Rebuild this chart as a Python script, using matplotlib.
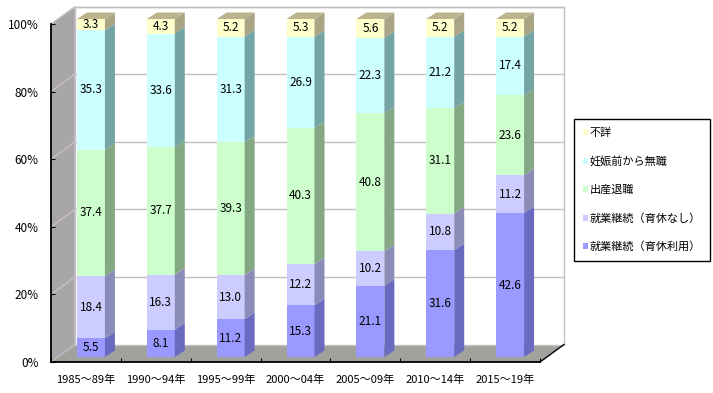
import numpy as np
import matplotlib
matplotlib.use("Agg")
import matplotlib.pyplot as plt
from matplotlib.patches import Polygon, Rectangle, Patch

plt.rcParams['font.family'] = ['Noto Sans CJK JP', 'DejaVu Sans']

# ---- data ----
categories = ['1985～89年', '1990～94年', '1995～99年', '2000～04年',
              '2005～09年', '2010～14年', '2015～19年']
series_names = ['就業継続（育休利用）', '就業継続（育休なし）', '出産退職',
                '妊娠前から無職', '不詳']
ikukyu_riyou = [5.5, 8.1, 11.2, 15.3, 21.1, 31.6, 42.6]
ikukyu_nashi = [18.4, 16.3, 13.0, 12.2, 10.2, 10.8, 11.2]
shussan_taishoku = [37.4, 37.7, 39.3, 40.3, 40.8, 31.1, 23.6]
ninshin_mae_mushoku = [35.3, 33.6, 31.3, 26.9, 22.3, 21.2, 17.4]
fusho = [3.3, 4.3, 5.2, 5.3, 5.6, 5.2, 5.2]
y_ticks = [0, 20, 40, 60, 80, 100]

values = np.array([ikukyu_riyou, ikukyu_nashi, shussan_taishoku,
                   ninshin_mae_mushoku, fusho])
shares = values / values.sum(axis=0) * 100  # 100% stacked

front_colors = ['#9999FF', '#CCCCFF', '#CCFFCC', '#CCFFFF', '#FFFFCC']
side_colors = ['#6A6AC0', '#8C8CB8', '#84A884', '#74A4A4', '#A8A484']
top_color = '#BCB48C'

# ---- figure / axes ----
W, H = 713, 393
fig = plt.figure(figsize=(W / 100, H / 100), dpi=100)
ax = fig.add_axes([51 / W, (H - 362) / H, (540 - 51) / W, (362 - 24) / H])
n = len(categories)
ax.set_xlim(-0.5, n - 0.5)
ax.set_ylim(0, 100)

px_x = (540 - 51) / n          # pixels per category
px_y = (362 - 24) / 100        # pixels per percent
# wall depth
dxw, dyw = 24 / px_x, 17.5 / px_y
# bar front offset and bar depth
fx, fy = 5 / px_x, 5 / px_y
bdx, bdy = 10 / px_x, 6.5 / px_y
bw = 28 / px_x

# floor, walls
x0, x1 = -0.5, n - 0.5
ax.add_patch(Polygon([(x0, 0), (x0 + dxw, dyw), (x1 + dxw, dyw), (x1, 0)],
                     closed=True, fc='#A2A29C', ec='none', clip_on=False, zorder=0))
ax.add_patch(Polygon([(x0, 0), (x0, 100), (x0 + dxw, 100 + dyw), (x0 + dxw, dyw)],
                     closed=True, fc='#A8A6A8', ec='#C8C0C8', lw=0.8, clip_on=False, zorder=0))
ax.add_patch(Rectangle((x0 + dxw, dyw), x1 - x0, 100, fc='white', ec='#C4C0C4',
                       lw=1, clip_on=False, zorder=0))
for v in y_ticks[1:]:
    ax.plot([x0 + dxw, x1 + dxw], [v + dyw, v + dyw], color='#C0C0C0', lw=1,
            clip_on=False, zorder=1)
    ax.plot([x0, x0 + dxw], [v, v + dyw], color='#CEC6CE', lw=0.8,
            clip_on=False, zorder=1)
ax.plot([x1, x1 + dxw], [0, dyw], color='black', lw=1, clip_on=False, zorder=1)

# bars
for i in range(n):
    cx = i + fx
    left, right = cx - bw / 2, cx + bw / 2
    bottom = 0
    for k in range(len(series_names)):
        h = shares[k, i]
        y0, y1 = bottom + fy, bottom + h + fy
        ax.add_patch(Rectangle((left, y0), bw, h, fc=front_colors[k], ec='none',
                               clip_on=False, zorder=3))
        ax.add_patch(Polygon([(right, y0), (right + bdx, y0 + bdy),
                              (right + bdx, y1 + bdy), (right, y1)],
                             closed=True, fc=side_colors[k], ec='none',
                             clip_on=False, zorder=3))
        ax.text(cx, (y0 + y1) / 2, f'{values[k, i]:.1f}', ha='center', va='center',
                fontsize=8.5, zorder=5)
        bottom += h
    ytop = bottom + fy
    ax.add_patch(Polygon([(left, ytop), (left + bdx, ytop + bdy),
                          (right + bdx, ytop + bdy), (right, ytop)],
                         closed=True, fc=top_color, ec='none', clip_on=False, zorder=3))

# axes styling
for s in ['top', 'right']:
    ax.spines[s].set_visible(False)
for s in ['left', 'bottom']:
    ax.spines[s].set_color('black')
    ax.spines[s].set_linewidth(1.3)
    ax.spines[s].set_zorder(4)
ax.set_yticks(y_ticks)
ax.set_yticklabels([f'{v}%' for v in y_ticks])
ax.tick_params(axis='y', direction='in', length=3, pad=9, labelsize=8.5)
ax.set_xticks(np.arange(n + 1) - 0.5)
ax.set_xticklabels([])
ax.set_xticks(np.arange(n), minor=True)
ax.set_xticklabels(categories, minor=True)
ax.tick_params(axis='x', which='major', direction='in', length=3)
ax.tick_params(axis='x', which='minor', length=0, pad=9, labelsize=8)
ax.patch.set_visible(False)

# legend
handles = [Patch(fc=front_colors[k], ec='none') for k in range(len(series_names))][::-1]
leg = fig.legend(handles, series_names[::-1], loc='upper left',
                 bbox_to_anchor=(574 / W, 1 - 119 / H), borderaxespad=0,
                 fontsize=8, handlelength=0.45, handleheight=0.45,
                 handletextpad=0.15, labelspacing=1.6, borderpad=0.8,
                 fancybox=False, edgecolor='black', framealpha=1)
leg.get_frame().set_linewidth(1)

fig.savefig('out.png', dpi=100)
